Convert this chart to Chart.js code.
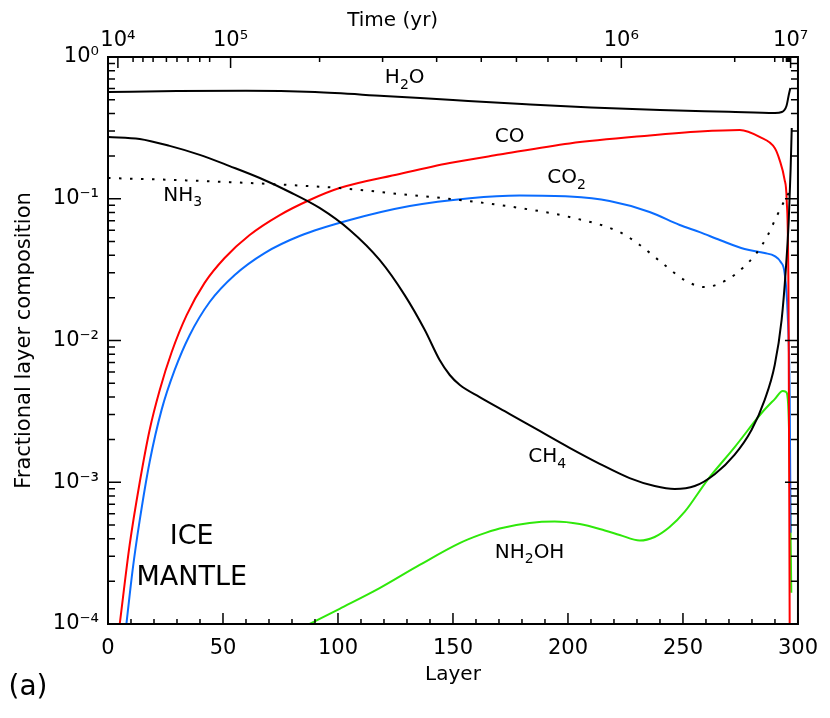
<!DOCTYPE html>
<html>
<head>
<meta charset="utf-8">
<title>Ice mantle layer composition</title>
<script src="https://cdn.jsdelivr.net/npm/chart.js@4.4.1/dist/chart.umd.min.js"></script>
<style>
  html, body { margin: 0; padding: 0; background: #fff; }
  #wrap { width: 830px; height: 718px; }
</style>
</head>
<body>
<div id="wrap"><canvas id="iceChart" width="830" height="718"></canvas></div>
<script>
// fractional composition per layer
const h2oLayer = [0, 30, 60, 90, 120, 150, 180, 210, 240, 270, 290, 293, 295, 296, 296.7];
const h2oFrac  = [0.566, 0.575, 0.578, 0.566, 0.531, 0.497, 0.466, 0.440, 0.423, 0.411, 0.403, 0.409, 0.451, 0.539, 0.604];

const coLayer = [5.1, 9.4, 13.8, 18.1, 22.5, 27.7, 34.2, 42, 50.7, 61.6, 74.7, 87.7, 100.7, 126.8, 148.6, 170.3, 200.7, 235.5, 257.3, 274.7, 283.3, 289.9, 292, 294.2, 295.1, 295.9, 296.4];
const coFrac  = [1e-4, 3.6e-4, 1.0e-3, 2.34e-3, 4.48e-3, 8.3e-3, 1.51e-2, 2.55e-2, 3.82e-2, 5.55e-2, 7.67e-2, 0.098, 0.119, 0.1496, 0.1786, 0.205, 0.2455, 0.2794, 0.298, 0.3055, 0.273, 0.228, 0.188, 0.136, 0.098, 0.0193, 1e-4];

const co2Layer = [8, 10.7, 13.8, 18.1, 23.3, 29, 35.5, 44.2, 55.1, 68.1, 83.3, 105.1, 131.2, 157.3, 179, 200.7, 218.1, 235.5, 248.6, 257.3, 266, 276.8, 285.5, 289.9, 292.5, 294.2, 295.5, 296.4, 296.8];
const co2Frac  = [1e-4, 2.4e-4, 5.4e-4, 1.39e-3, 3.24e-3, 6.2e-3, 1.09e-2, 1.87e-2, 2.9e-2, 4.14e-2, 5.46e-2, 0.0708, 0.0889, 0.101, 0.1054, 0.1037, 0.0964, 0.0807, 0.0653, 0.0582, 0.0512, 0.0442, 0.0414, 0.0394, 0.0358, 0.0299, 0.0156, 0.0040, 4.4e-4];

const nh3Layer = [0, 26.8, 52.9, 79, 100.7, 126.8, 152.9, 179, 200.7, 222.5, 231.2, 242, 250.7, 259.4, 269, 276, 282, 286.7, 290.6, 295, 296.7];
const nh3Frac  = [0.140, 0.136, 0.131, 0.125, 0.119, 0.108, 0.098, 0.0861, 0.0743, 0.0582, 0.0472, 0.0341, 0.0267, 0.0238, 0.0267, 0.0325, 0.0414, 0.0546, 0.0743, 0.103, 0.115];

const ch4Layer = [0, 13.8, 26.8, 39.9, 52.9, 66, 79, 92, 105.1, 118.1, 129, 137.7, 144.2, 148.6, 153, 161.6, 174.7, 187.7, 200.7, 213.8, 226.8, 237.7, 246.4, 255.1, 263.8, 272.4, 279.8, 285.5, 289.9, 292.9, 294.7, 296, 296.8, 297.3];
const ch4Frac  = [0.273, 0.264, 0.236, 0.204, 0.170, 0.140, 0.1116, 0.0861, 0.0602, 0.037, 0.0209, 0.0119, 0.00728, 0.00571, 0.00485, 0.00399, 0.00303, 0.0023, 0.00175, 0.00135, 0.00107, 0.00094, 0.000896, 0.00094, 0.00114, 0.00156, 0.00234, 0.0038, 0.00671, 0.0140, 0.0314, 0.0708, 0.160, 0.316];

const nh2ohLayer = [87.7, 100.7, 118.1, 135.5, 152.9, 161.6, 170.3, 183.3, 194.2, 205.1, 216, 222.5, 231.2, 237.7, 244.2, 250.7, 260.7, 272.5, 284.2, 289.9, 293.4, 294.7, 295.7, 296.4, 297.1];
const nh2ohFrac  = [1e-4, 1.28e-4, 1.79e-4, 2.61e-4, 3.72e-4, 4.25e-4, 4.72e-4, 5.16e-4, 5.28e-4, 5.07e-4, 4.57e-4, 4.25e-4, 3.88e-4, 4.11e-4, 4.83e-4, 6.17e-4, 1.04e-3, 1.77e-3, 3.08e-3, 3.86e-3, 4.40e-3, 4.35e-3, 3.62e-3, 1.37e-3, 1.66e-4];

// axis ticks
const layerTicks = [0, 50, 100, 150, 200, 250, 300];
const yDecades = [1e-4, 1e-3, 1e-2, 1e-1, 1];
const yTickLabels = ['10⁻⁴', '10⁻³', '10⁻²', '10⁻¹', '10⁰'];
// top axis: time (yr) at the layer where it is reached
const timeMajorLayers = [4.3, 53.3, 223.2, 296.8];
const timeMajorLabels = ['10⁴', '10⁵', '10⁶', '10⁷'];
const timeMinorLayers = [10.9, 15.2, 19.6, 25.4, 30.0, 34.8, 39.9, 44.2,
                         92.0, 119.4, 142.9, 162.3, 177.6, 191.3, 203.7, 214.5,
                         272.5, 289.9, 293.5, 295.0, 295.6, 296.0, 296.3, 296.6];

// species labels next to the curves ('_' marks a subscript character)
const speciesText  = ['H_2O', 'CO', 'CO_2', 'NH_3', 'CH_4', 'NH_2OH'];
const speciesLayer = [129, 174.6, 199.4, 32.5, 191, 183.3];
const speciesFrac  = [0.711, 0.273, 0.14, 0.105, 0.0015, 3.2e-4];

const FONT = '"DejaVu Sans", "Liberation Sans", sans-serif';

function series(name, layers, fracs, color, dash) {
    return {
        label: name,
        data: layers.map((l, i) => ({x: l, y: fracs[i]})),
        borderColor: color,
        borderWidth: 2,
        borderDash: dash || [],
        pointRadius: 0,
        fill: false,
        cubicInterpolationMode: 'monotone',
        xAxisID: 'x',
        yAxisID: 'y'
    };
}

// draw a formula like NH_2OH centred on x, with lowered smaller digits
function drawFormula(ctx, text, x, y) {
    const parts = [];
    for (let i = 0; i < text.length; i++) {
        if (text[i] === '_') { parts.push([text[i + 1], true]); i++; }
        else parts.push([text[i], false]);
    }
    const big = '20px ' + FONT, small = '14px ' + FONT;
    let w = 0;
    parts.forEach(p => { ctx.font = p[1] ? small : big; w += ctx.measureText(p[0]).width; });
    let cx = x - w / 2;
    ctx.textAlign = 'left';
    parts.forEach(p => {
        ctx.font = p[1] ? small : big;
        ctx.fillText(p[0], cx, p[1] ? y + 7 : y);
        cx += ctx.measureText(p[0]).width;
    });
}

// IDL style: inward ticks on all four sides, box frame, text labels
const idlAxes = {
    id: 'idlAxes',
    afterDatasetsDraw(chart) {
        const {ctx, chartArea: a, scales} = chart;
        const xs = scales.x, xt = scales.xTime, ys = scales.y;
        ctx.save();
        ctx.strokeStyle = '#000';
        ctx.lineWidth = 1.5;
        ctx.beginPath();
        for (let v = 0; v <= 300; v += 10) {
            const px = xs.getPixelForValue(v);
            const len = v % 50 === 0 ? 11 : 5;
            ctx.moveTo(px, a.bottom); ctx.lineTo(px, a.bottom - len);
        }
        timeMajorLayers.forEach(v => {
            const px = xt.getPixelForValue(v);
            ctx.moveTo(px, a.top); ctx.lineTo(px, a.top + 11);
        });
        timeMinorLayers.forEach(v => {
            const px = xt.getPixelForValue(v);
            ctx.moveTo(px, a.top); ctx.lineTo(px, a.top + 5);
        });
        yDecades.forEach((d, i) => {
            const py = ys.getPixelForValue(d);
            ctx.moveTo(a.left, py); ctx.lineTo(a.left + 13, py);
            ctx.moveTo(a.right, py); ctx.lineTo(a.right - 13, py);
            if (i < yDecades.length - 1) {
                for (let m = 2; m < 10; m++) {
                    const pm = ys.getPixelForValue(d * m);
                    ctx.moveTo(a.left, pm); ctx.lineTo(a.left + 7, pm);
                    ctx.moveTo(a.right, pm); ctx.lineTo(a.right - 7, pm);
                }
            }
        });
        ctx.stroke();
        ctx.lineWidth = 2;
        ctx.strokeRect(a.left, a.top, a.right - a.left, a.bottom - a.top);

        ctx.fillStyle = '#000';
        ctx.textBaseline = 'middle';
        speciesText.forEach((t, i) => {
            drawFormula(ctx, t, xs.getPixelForValue(speciesLayer[i]), ys.getPixelForValue(speciesFrac[i]));
        });
        // top axis title sits above the 2x10^5..10^6 span
        ctx.font = '20px ' + FONT;
        ctx.textAlign = 'left';
        ctx.fillText('Time (yr)', xs.getPixelForValue(104), 21);
        ctx.textAlign = 'center';
        ctx.font = '27px ' + FONT;
        ctx.fillText('ICE', xs.getPixelForValue(36.4), ys.getPixelForValue(4.1e-4));
        ctx.fillText('MANTLE', xs.getPixelForValue(36.4), ys.getPixelForValue(2.1e-4));
        ctx.font = '28px ' + FONT;
        ctx.fillText('(a)', 28, 688);
        ctx.restore();
    }
};

const tickFont = {family: FONT, size: 21, lineHeight: 1.2};

new Chart(document.getElementById('iceChart'), {
    type: 'line',
    data: {
        datasets: [
            series('H2O', h2oLayer, h2oFrac, '#000000'),
            series('NH3', nh3Layer, nh3Frac, '#000000', [2.5, 8.5]),
            series('CH4', ch4Layer, ch4Frac, '#000000'),
            series('CO', coLayer, coFrac, '#ff0000'),
            series('CO2', co2Layer, co2Frac, '#0a6cff'),
            series('NH2OH', nh2ohLayer, nh2ohFrac, '#2fe80a')
        ]
    },
    options: {
        responsive: false,
        animation: false,
        devicePixelRatio: 1,
        layout: {padding: 0},
        plugins: {legend: {display: false}, tooltip: {enabled: false}},
        scales: {
            x: {
                type: 'linear', position: 'bottom', min: 0, max: 300,
                afterBuildTicks: s => { s.ticks = layerTicks.map(v => ({value: v})); },
                afterFit: s => { s.height = 94; },
                grid: {display: false, drawTicks: false},
                border: {display: false},
                ticks: {padding: 12, maxRotation: 0, autoSkip: false, color: '#000', font: tickFont},
                title: {display: true, text: 'Layer', color: '#000', font: {family: FONT, size: 20, lineHeight: 1.2}, padding: {top: 0, bottom: 31}}
            },
            xTime: {
                type: 'linear', position: 'top', min: 0, max: 300,
                afterBuildTicks: s => { s.ticks = timeMajorLayers.map(v => ({value: v})); },
                afterFit: s => { s.height = 57; },
                grid: {display: false, drawTicks: false},
                border: {display: false},
                ticks: {padding: 4, maxRotation: 0, autoSkip: false, color: '#000', font: tickFont,
                        callback: (v, i) => timeMajorLabels[i]}
            },
            y: {
                type: 'logarithmic', position: 'left', min: 1e-4, max: 1,
                afterBuildTicks: s => { s.ticks = yDecades.map(v => ({value: v})); },
                afterFit: s => { s.width = 108; },
                grid: {display: false, drawTicks: false},
                border: {display: false},
                ticks: {padding: 9, autoSkip: false, color: '#000', font: tickFont,
                        callback: v => yTickLabels[yDecades.indexOf(v)]},
                title: {display: true, text: 'Fractional layer composition', color: '#000',
                        font: {family: FONT, size: 21, lineHeight: 1.2}, padding: {top: 12, bottom: 0}}
            },
            yRight: {
                type: 'logarithmic', position: 'right', min: 1e-4, max: 1,
                afterFit: s => { s.width = 32; },
                grid: {display: false, drawTicks: false},
                border: {display: false},
                ticks: {display: false}
            }
        }
    },
    plugins: [idlAxes]
});
</script>
</body>
</html>
